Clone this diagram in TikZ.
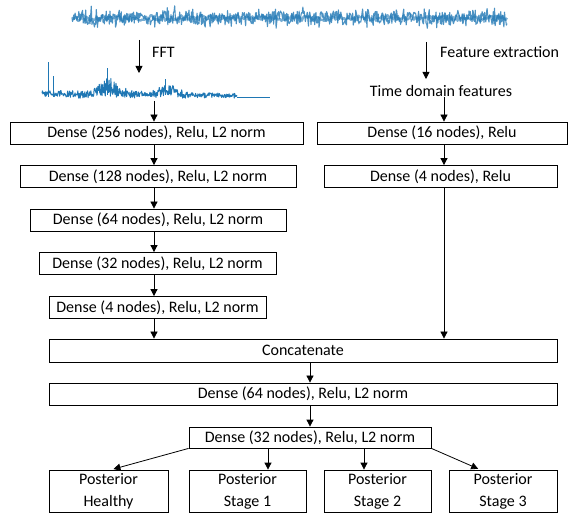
\documentclass[tikz,border=0pt]{standalone}
\usepackage{fontspec}
\setmainfont{Carlito}
\usetikzlibrary{arrows.meta,positioning,calc}
\definecolor{sigblue}{RGB}{31,119,180}
\tikzset{
  box/.style={draw,line width=0.8pt,minimum height=22pt,inner sep=0pt,align=center},
  postbox/.style={box,minimum height=42pt},
  arr/.style={-{Triangle[length=7pt,width=7pt]},line width=0.8pt},
  wave/.style={sigblue,line width=0.7pt,line join=round}
}

\begin{document}
\begin{tikzpicture}[x=1pt,y=-1pt,every node/.style={font=\fontsize{16}{22}\selectfont}]
  \useasboundingbox (0,0) rectangle (574,524);
  % raw vibration signal
  \pgfmathsetseed{7}
  \draw[wave,line width=1.1pt,opacity=0.8] plot[domain=72:507,samples=700] (\x,{18+7*rand+9*rand*rand*rand});
  \draw[wave,line width=2.2pt,opacity=0.6] plot[domain=72:507,samples=300] (\x,{18+3*rand});
  % FFT spectrum
  \draw[wave,line width=1pt] plot[domain=42:237,samples=420]
     (\x,{97+1.5*rand-(6+14*exp(-((\x-110)/14)^2)+8*exp(-((\x-168)/12)^2)-3*(\x-42)/195)*abs(rand)});
  \draw[wave] (237,97.5) -- (270,97.5);
  \draw[wave] (48,97) -- (48,62) (53,97) -- (53,76) (107,95) -- (107,68) (165,95) -- (165,79);
  % column guides
  \coordinate (lc) at (154,0);
  \coordinate (rc) at (444,0);
  \coordinate (sigL) at (139,40);
  \coordinate (specT) at (139,73);
  \coordinate (sigR) at (426,42);
  \coordinate (featT) at (426,79);
  \coordinate (specB) at (154,101);
  % labels of the two branches
  \node[anchor=west,inner sep=0pt] (fftlab) at (152,52) {FFT};
  \node[anchor=west,inner sep=0pt] (featlab) at (440,52) {Feature extraction};
  \node[inner sep=0pt] (tdf) at (441,91) {Time domain features};
  % frequency branch
  \node[box,minimum width=293pt] (fft1) at (156.5,133) {Dense (256 nodes), Relu, L2 norm};
  \node[box,minimum width=276pt] (fft2) at (158,176.5) {Dense (128 nodes), Relu, L2 norm};
  \node[box,minimum width=256pt] (fft3) at (158,220) {Dense (64 nodes), Relu, L2 norm};
  \node[box,minimum width=237pt] (fft4) at (157.5,263.5) {Dense (32 nodes), Relu, L2 norm};
  \node[box,minimum width=217pt] (fft5) at (157.5,307.5) {Dense (4 nodes), Relu, L2 norm};
  % time domain branch
  \node[box,minimum width=250pt] (td1) at (442,133) {Dense (16 nodes), Relu};
  \node[box,minimum width=233pt] (td2) at (440.5,176.5) {Dense (4 nodes), Relu};
  % merged part
  \node[box,minimum width=508pt,minimum height=23pt] (concat) at (303,350.5) {Concatenate};
  \node[box,minimum width=508pt] (dense64) at (303,394) {Dense (64 nodes), Relu, L2 norm};
  \node[box,minimum width=242pt,minimum height=21pt] (dense32) at (310,437.5) {Dense (32 nodes), Relu, L2 norm};
  % outputs
  \node[postbox,minimum width=119pt] (healthy) at (108.5,491) {Posterior\\Healthy};
  \node[postbox,minimum width=117pt] (stage1) at (247.5,491) {Posterior\\Stage 1};
  \node[postbox,minimum width=107pt] (stage2) at (377.5,491) {Posterior\\Stage 2};
  \node[postbox,minimum width=108pt] (stage3) at (503,491) {Posterior\\Stage 3};
  % arrows
  \draw[arr] (sigL) -- (specT);
  \draw[arr] (sigR) -- (featT);
  \draw[arr] (specB) -- (fft1.north -| lc);
  \draw[arr] (tdf.south -| rc) -- (td1.north -| rc);
  \draw[arr] (fft1.south -| lc) -- (fft2.north -| lc);
  \draw[arr] (fft2.south -| lc) -- (fft3.north -| lc);
  \draw[arr] (fft3.south -| lc) -- (fft4.north -| lc);
  \draw[arr] (fft4.south -| lc) -- (fft5.north -| lc);
  \draw[arr] (fft5.south -| lc) -- (concat.north -| lc);
  \draw[arr] (td1.south -| rc) -- (td2.north -| rc);
  \draw[arr] (td2.south -| rc) -- (concat.north -| rc);
  \draw[arr] (concat.south -| dense32) -- (dense64.north -| dense32);
  \draw[arr] (dense64.south -| dense32) -- (dense32.north);
  \draw[arr,shorten >=2pt] (dense32.south west) -- ([xshift=3pt]healthy.north);
  \draw[arr] ([xshift=20.5pt]stage1.north |- dense32.south) -- ([xshift=20.5pt]stage1.north);
  \draw[arr] ([xshift=-13.5pt]stage2.north |- dense32.south) -- ([xshift=-13.5pt]stage2.north);
  \draw[arr,shorten >=2pt] (dense32.south east) -- ([xshift=-23pt]stage3.north);
\end{tikzpicture}
\end{document}
